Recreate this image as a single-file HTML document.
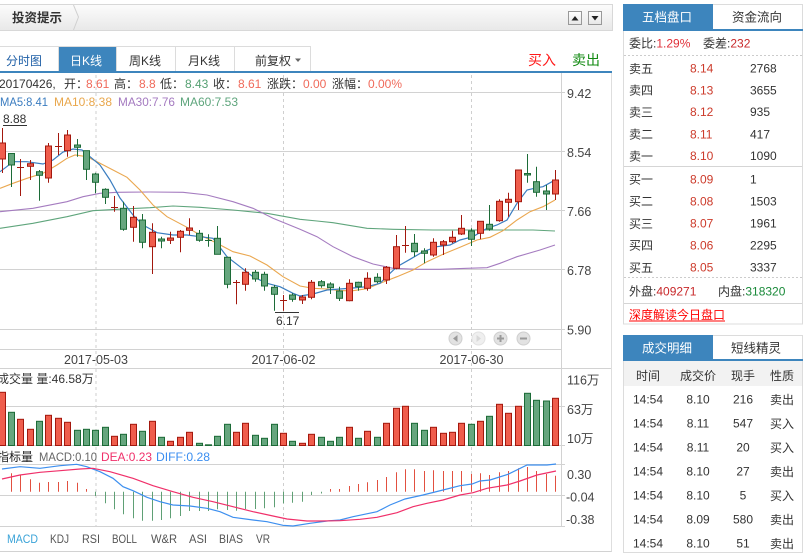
<!DOCTYPE html>
<html><head><meta charset="utf-8">
<style>
*{margin:0;padding:0;box-sizing:border-box}
html,body{width:808px;height:556px;overflow:hidden;background:#fff}
svg{display:block}
text{font-family:"Liberation Sans","Noto Sans CJK SC",sans-serif;font-size:12px;fill:#333}
.ax{font-size:12.5px;fill:#444}
.r rect{fill:#ef5d4c;stroke:#a3180e;stroke-width:1}
.r line{stroke:#a3180e;stroke-width:1}
.g rect{fill:#66a67e;stroke:#1c6b37;stroke-width:1}
.g line{stroke:#1c6b37;stroke-width:1}
.grid line{stroke:#d2d2d2;stroke-width:1}
.dash line{stroke:#cfcfcf;stroke-width:1;stroke-dasharray:3,3}
.hr line{stroke:#e25040;stroke-width:1}
.hg line{stroke:#5fa075;stroke-width:1}
.pr{fill:#cc3a2a}
</style></head><body>
<svg width="808" height="556" viewBox="0 0 808 556" xmlns="http://www.w3.org/2000/svg">
<defs>
<linearGradient id="hg" x1="0" y1="0" x2="0" y2="1"><stop offset="0" stop-color="#fcfcfc"/><stop offset="1" stop-color="#e8e8e8"/></linearGradient>
<linearGradient id="bg" x1="0" y1="0" x2="0" y2="1"><stop offset="0" stop-color="#ffffff"/><stop offset="1" stop-color="#e6e6e6"/></linearGradient>
</defs>

<!-- header -->
<rect x="-1" y="4.5" width="613.5" height="26" fill="url(#hg)" stroke="#d8d8d8"/>
<polyline points="73.5,5 78.5,17 73.5,30" fill="none" stroke="#d0d0d0"/>
<text x="12" y="22" style="font-weight:bold;font-size:12.5px">投资提示</text>
<rect x="568.5" y="11.5" width="13" height="13" fill="url(#bg)" stroke="#999"/>
<polygon points="571.5,20.5 578.5,20.5 575,16" fill="#222"/>
<rect x="588.5" y="11.5" width="13" height="13" fill="url(#bg)" stroke="#999"/>
<polygon points="591.5,16 598.5,16 595,20.5" fill="#222"/>

<!-- tabs -->
<rect x="58" y="46" width="58.5" height="25" fill="#3d85bd"/>
<line x1="0" y1="46.5" x2="310" y2="46.5" stroke="#dcdcdc"/>
<line x1="58.5" y1="46" x2="58.5" y2="71" stroke="#dcdcdc"/>
<line x1="116.5" y1="46" x2="116.5" y2="71" stroke="#dcdcdc"/>
<line x1="175.5" y1="46" x2="175.5" y2="71" stroke="#dcdcdc"/>
<line x1="234.5" y1="46" x2="234.5" y2="71" stroke="#dcdcdc"/>
<line x1="310.5" y1="46" x2="310.5" y2="71" stroke="#dcdcdc"/>
<text x="6" y="65" style="fill:#1f5fa6">分时图</text>
<text x="70" y="65" style="fill:#fff">日K线</text>
<text x="129" y="65">周K线</text>
<text x="188" y="65">月K线</text>
<text x="255" y="65">前复权</text>
<polygon points="295,58.5 301,58.5 298,62" fill="#666"/>
<text x="528" y="65" style="fill:#ff1a1a;font-size:14px">买入</text>
<text x="572" y="65" style="fill:#118a11;font-size:14px">卖出</text>
<rect x="0" y="71" width="612" height="2" fill="#3d85bd"/>

<!-- info lines -->
<text x="-1" y="88">20170426,</text>
<text x="64" y="88">开：</text><text x="86" y="88" style="fill:#f06a5a">8.61</text>
<text x="114" y="88">高：</text><text x="139" y="88" style="fill:#f06a5a">8.8</text>
<text x="160" y="88">低：</text><text x="185" y="88" style="fill:#55a072">8.43</text>
<text x="213" y="88">收：</text><text x="238" y="88" style="fill:#f06a5a">8.61</text>
<text x="267" y="88">涨跌：</text><text x="303" y="88" style="fill:#f06a5a">0.00</text>
<text x="332" y="88">涨幅：</text><text x="368" y="88" style="fill:#f06a5a">0.00%</text>
<text x="0" y="106" textLength="48" lengthAdjust="spacingAndGlyphs" style="fill:#3a7cc0">MA5:8.41</text>
<text x="54" y="106" textLength="58" lengthAdjust="spacingAndGlyphs" style="fill:#e9a74c">MA10:8.38</text>
<text x="118" y="106" textLength="57" lengthAdjust="spacingAndGlyphs" style="fill:#a47ac0">MA30:7.76</text>
<text x="180" y="106" textLength="58" lengthAdjust="spacingAndGlyphs" style="fill:#5ea57c">MA60:7.53</text>

<!-- grid -->
<g class="grid">
<line x1="0" y1="92.5" x2="565" y2="92.5"/>
<line x1="0" y1="151.5" x2="565" y2="151.5"/>
<line x1="0" y1="210.5" x2="565" y2="210.5"/>
<line x1="0" y1="269.5" x2="565" y2="269.5"/>
<line x1="0" y1="329.5" x2="565" y2="329.5"/>
<line x1="0" y1="349.5" x2="562" y2="349.5"/>
<line x1="0" y1="368.5" x2="612" y2="368.5"/>
<line x1="0" y1="406.5" x2="565" y2="406.5"/>
<line x1="0" y1="445.5" x2="565" y2="445.5"/>
<line x1="0" y1="464.5" x2="565" y2="464.5"/>
<line x1="0" y1="495.5" x2="565" y2="495.5"/>
<line x1="0" y1="526.5" x2="565" y2="526.5"/>
<line x1="0" y1="551.5" x2="612" y2="551.5"/>
<line x1="561.5" y1="73" x2="561.5" y2="526.5"/>
<line x1="611.5" y1="73" x2="611.5" y2="551.5" style="stroke:#dedede"/>
</g>
<g class="dash">
<line x1="96" y1="75" x2="96" y2="526"/>
<line x1="283.5" y1="75" x2="283.5" y2="526"/>
<line x1="471.5" y1="75" x2="471.5" y2="526"/>
</g>

<!-- axis labels -->
<text class="ax" x="567" y="98">9.42</text>
<text class="ax" x="567" y="157">8.54</text>
<text class="ax" x="567" y="216">7.66</text>
<text class="ax" x="567" y="275">6.78</text>
<text class="ax" x="567" y="334.5">5.90</text>
<text class="ax" x="567" y="384.5">116万</text>
<text class="ax" x="567" y="414">63万</text>
<text class="ax" x="567" y="443">10万</text>
<text class="ax" x="567" y="479">0.30</text>
<text class="ax" x="566" y="501.5">-0.04</text>
<text class="ax" x="566" y="524">-0.38</text>
<text class="ax" x="96" y="364" text-anchor="middle">2017-05-03</text>
<text class="ax" x="283.5" y="364" text-anchor="middle">2017-06-02</text>
<text class="ax" x="471.5" y="364" text-anchor="middle">2017-06-30</text>

<!-- nav buttons -->
<circle cx="455.5" cy="338.5" r="6.5" fill="#e2e2e2" stroke="#cfcfcf"/>
<polygon points="457.5,335 457.5,342 453,338.5" fill="#9a9a9a"/>
<circle cx="478.5" cy="338.5" r="6.5" fill="#efefef" stroke="#e2e2e2"/>
<polygon points="476.5,335 476.5,342 481,338.5" fill="#d8d8d8"/>
<circle cx="500.5" cy="338.5" r="6.5" fill="#e2e2e2" stroke="#cfcfcf"/>
<rect x="497" y="337.5" width="7" height="2" fill="#9a9a9a"/><rect x="499.5" y="335" width="2" height="7" fill="#9a9a9a"/>
<circle cx="523.5" cy="338.5" r="6.5" fill="#e2e2e2" stroke="#cfcfcf"/>
<rect x="520" y="337.5" width="7" height="2" fill="#9a9a9a"/>

<!-- MA lines -->
<polyline fill="none" stroke="#5fa57c" stroke-width="1.1" points="0,228.3 33,223.3 67,216.7 93,210.7 117,209.3 150,207.7 173,206 200,207.3 233,210 267,213.3 300,219.3 317,221 333,222.7 367,228.3 393,229.3 433,230 467,230 500,230 533,230 555,231"/>
<polyline fill="none" stroke="#a57cc0" stroke-width="1.1" points="0,211.7 33,208.3 67,201.7 83,196.7 100,193.3 117,192.3 150,192 183,192.3 207,195 233,201.7 253,208.3 273,218.3 300,229.3 317,236.7 333,246.7 353,256.7 373,264 393,268.3 417,269.3 440,269.3 467,268.3 487,267.7 500,263.3 517,256.7 540,250 555,245"/>
<polyline fill="none" stroke="#eaa74f" stroke-width="1.1" points="0,188.3 13,183.3 27,178.3 43,173.3 57,165 67,158.3 75,155 87,156.7 100,163.3 113,170 127,177.3 140,190 153,205 167,216.7 187,227.3 200,235 217,243.3 233,251.7 250,256 267,265 283,276.7 300,286 313,288.3 327,289 340,290.7 353,290.7 367,288.7 380,283.3 397,276.7 413,270 427,261.7 443,254.3 460,247.3 477,240 490,237.3 503,230.7 517,220 530,211.7 543,206.7 555,200"/>
<polyline fill="none" stroke="#3a7dc0" stroke-width="1.2" points="0,171.7 6.7,166.7 13,161.7 26.7,161.7 43,164 53,160 63,152 73,149 82,150 90,156.7 100,165 110,180 120,198 133,215 143,225 157,232.7 173,235 187,235 200,236.7 213,238.3 227,256.7 240,266.7 253,276.7 267,283.3 280,286.7 293,293.3 300,296 313,294 327,290 340,289 353,288 367,286.7 380,283.3 390,273.3 397,266.7 410,259.3 423,251.7 437,246.7 450,245 460,240 473,236.7 487,228.3 497,225 507,220 517,203.3 527,190 537,187.7 543,186.7 552,181.7 556,180.5"/>

<!-- candles -->
<g class="r">
<line x1="2.5" y1="128" x2="2.5" y2="173"/><rect x="-0.5" y="143" width="6" height="16"/>
<line x1="20.5" y1="159" x2="20.5" y2="196"/><line x1="17" y1="167.5" x2="24" y2="167.5"/>
<line x1="30.5" y1="160" x2="30.5" y2="180"/><rect x="27.5" y="163.7" width="6" height="2.6"/>
<line x1="48.5" y1="143" x2="48.5" y2="182.7"/><rect x="45.5" y="146" width="6" height="32"/>
<line x1="58.5" y1="133" x2="58.5" y2="155"/><line x1="55" y1="146.5" x2="62" y2="146.5"/>
<line x1="67.5" y1="130" x2="67.5" y2="156.7"/><rect x="64.5" y="135" width="6" height="15.7"/>
<line x1="114.5" y1="196" x2="114.5" y2="211.7"/><line x1="111" y1="207.5" x2="118" y2="207.5"/>
<line x1="133.5" y1="206" x2="133.5" y2="241.7"/><rect x="130.5" y="217.3" width="6" height="10"/>
<line x1="152.5" y1="223.3" x2="152.5" y2="274"/><rect x="149.5" y="232.3" width="6" height="14.4"/>
<line x1="170.5" y1="231.7" x2="170.5" y2="244"/><rect x="167.5" y="238" width="6" height="2.3"/>
<line x1="180.5" y1="230" x2="180.5" y2="252.3"/><rect x="177.5" y="231.3" width="6" height="6"/>
<line x1="189.5" y1="218.3" x2="189.5" y2="235"/><rect x="186.5" y="228" width="6" height="2.3"/>
<line x1="236.5" y1="280" x2="236.5" y2="304.3"/><line x1="233" y1="282.5" x2="240" y2="282.5"/>
<line x1="245.5" y1="268.3" x2="245.5" y2="290.7"/><rect x="242.5" y="272.3" width="6" height="12"/>
<line x1="283.5" y1="295" x2="283.5" y2="310.7"/><line x1="280" y1="300.5" x2="287" y2="300.5"/>
<line x1="302.5" y1="295" x2="302.5" y2="304"/><rect x="299.5" y="297" width="6" height="3"/>
<line x1="311.5" y1="280" x2="311.5" y2="299.3"/><rect x="308.5" y="282.3" width="6" height="15"/>
<line x1="349.5" y1="279.3" x2="349.5" y2="301.3"/><rect x="346.5" y="283.3" width="6" height="17.4"/>
<line x1="367.5" y1="272.3" x2="367.5" y2="290.7"/><rect x="364.5" y="278.3" width="6" height="10"/>
<line x1="386.5" y1="266" x2="386.5" y2="284"/><rect x="383.5" y="267.3" width="6" height="12.7"/>
<line x1="396.5" y1="235" x2="396.5" y2="269.3"/><rect x="393.5" y="246.7" width="6" height="21.6"/>
<line x1="405.5" y1="226" x2="405.5" y2="252.7"/><line x1="402" y1="245.5" x2="409" y2="245.5"/>
<line x1="433.5" y1="238.3" x2="433.5" y2="256.7"/><rect x="430.5" y="242.3" width="6" height="12.7"/>
<line x1="443.5" y1="240" x2="443.5" y2="255"/><rect x="440.5" y="241.7" width="6" height="3.3"/>
<line x1="452.5" y1="230.7" x2="452.5" y2="243.3"/><rect x="449.5" y="237.3" width="6" height="4.4"/>
<line x1="461.5" y1="215" x2="461.5" y2="235"/><rect x="458.5" y="228.3" width="6" height="5.7"/>
<line x1="480.5" y1="221.3" x2="480.5" y2="239.3"/><rect x="477.5" y="221.3" width="6" height="12"/>
<line x1="499.5" y1="199.3" x2="499.5" y2="221.7"/><rect x="496.5" y="201.3" width="6" height="19.4"/>
<line x1="508.5" y1="192.7" x2="508.5" y2="216.7"/><rect x="505.5" y="199.3" width="6" height="3"/>
<line x1="518.5" y1="170" x2="518.5" y2="210"/><rect x="515.5" y="170" width="6" height="31.7"/>
<line x1="555.5" y1="170" x2="555.5" y2="200"/><rect x="552.5" y="180" width="6" height="14"/>
</g>
<g class="g">
<line x1="11.5" y1="153" x2="11.5" y2="187"/><rect x="8.5" y="153.5" width="6" height="11.5"/>
<line x1="39.5" y1="170" x2="39.5" y2="200.7"/><rect x="36.5" y="171.7" width="6" height="3.6"/>
<line x1="77.5" y1="139" x2="77.5" y2="156.7"/><rect x="74.5" y="145" width="6" height="2.3"/>
<line x1="86.5" y1="150.7" x2="86.5" y2="180"/><rect x="83.5" y="150.7" width="6" height="18.6"/>
<line x1="95.5" y1="172.7" x2="95.5" y2="193.3"/><rect x="92.5" y="174" width="6" height="8.3"/>
<line x1="105.5" y1="188.3" x2="105.5" y2="204"/><rect x="102.5" y="189.3" width="6" height="8"/>
<line x1="123.5" y1="201.7" x2="123.5" y2="230.7"/><rect x="120.5" y="208.3" width="6" height="21"/>
<line x1="142.5" y1="214" x2="142.5" y2="248.3"/><rect x="139.5" y="220" width="6" height="22.3"/>
<line x1="161.5" y1="236.7" x2="161.5" y2="248.3"/><rect x="158.5" y="239" width="6" height="2"/>
<line x1="199.5" y1="230" x2="199.5" y2="241.7"/><rect x="196.5" y="233.3" width="6" height="7"/>
<line x1="208.5" y1="234.3" x2="208.5" y2="246.7"/><line x1="205" y1="240.5" x2="212" y2="240.5"/>
<line x1="217.5" y1="226" x2="217.5" y2="254.3"/><rect x="214.5" y="238.3" width="6" height="16"/>
<line x1="227.5" y1="256.7" x2="227.5" y2="288.3"/><rect x="224.5" y="257.3" width="6" height="27"/>
<line x1="255.5" y1="270" x2="255.5" y2="281.7"/><rect x="252.5" y="272.3" width="6" height="6.7"/>
<line x1="264.5" y1="271.7" x2="264.5" y2="290.7"/><rect x="261.5" y="274.3" width="6" height="11.7"/>
<line x1="274.5" y1="285" x2="274.5" y2="310.7"/><rect x="271.5" y="287.3" width="6" height="7"/>
<line x1="292.5" y1="293.3" x2="292.5" y2="301.7"/><rect x="289.5" y="295" width="6" height="4.3"/>
<line x1="321.5" y1="280" x2="321.5" y2="287.7"/><rect x="318.5" y="281.7" width="6" height="4"/>
<line x1="330.5" y1="282.3" x2="330.5" y2="294"/><rect x="327.5" y="284" width="6" height="3.7"/>
<line x1="339.5" y1="286.7" x2="339.5" y2="301"/><rect x="336.5" y="291" width="6" height="7.3"/>
<line x1="358.5" y1="281.7" x2="358.5" y2="290.7"/><rect x="355.5" y="282.3" width="6" height="4.4"/>
<line x1="377.5" y1="273.3" x2="377.5" y2="283.3"/><rect x="374.5" y="277.3" width="6" height="4.4"/>
<line x1="414.5" y1="234" x2="414.5" y2="256.7"/><rect x="411.5" y="243.3" width="6" height="8.4"/>
<line x1="424.5" y1="248.3" x2="424.5" y2="263.3"/><rect x="421.5" y="251" width="6" height="2.3"/>
<line x1="471.5" y1="228.3" x2="471.5" y2="246"/><rect x="468.5" y="231" width="6" height="8.3"/>
<line x1="489.5" y1="205" x2="489.5" y2="230.7"/><rect x="486.5" y="224.3" width="6" height="4.7"/>
<line x1="527.5" y1="154" x2="527.5" y2="182.7"/><rect x="524.5" y="173.5" width="6" height="1.5"/>
<line x1="536.5" y1="166.7" x2="536.5" y2="196.7"/><rect x="533.5" y="181.7" width="6" height="10.6"/>
<line x1="546.5" y1="185" x2="546.5" y2="210"/><rect x="543.5" y="191" width="6" height="3"/>
</g>

<!-- extreme labels -->
<text x="3" y="123">8.88</text>
<line x1="3" y1="125.5" x2="27" y2="125.5" stroke="#333"/>
<line x1="275" y1="312.5" x2="299" y2="312.5" stroke="#333"/>
<text x="276" y="325">6.17</text>

<!-- volume -->
<text x="-3" y="383">成交量 量:46.58万</text>
<g class="r">
<rect x="-0.5" y="392.3" width="6" height="53.2"/>
<rect x="17.5" y="419.3" width="6" height="26.2"/>
<rect x="27.5" y="429.3" width="6" height="16.2"/>
<rect x="45.5" y="415.3" width="6" height="30.2"/>
<rect x="55.5" y="418.3" width="6" height="27.2"/>
<rect x="64.5" y="422.3" width="6" height="23.2"/>
<rect x="111.5" y="436.3" width="6" height="9.2"/>
<rect x="130.5" y="424.3" width="6" height="21.2"/>
<rect x="149.5" y="421.3" width="6" height="24.2"/>
<rect x="167.5" y="441.3" width="6" height="4.2"/>
<rect x="177.5" y="437.3" width="6" height="8.2"/>
<rect x="186.5" y="432.3" width="6" height="13.2"/>
<rect x="233.5" y="432.3" width="6" height="13.2"/>
<rect x="242.5" y="423.3" width="6" height="22.2"/>
<rect x="280.5" y="433.3" width="6" height="12.2"/>
<rect x="299.5" y="443.3" width="6" height="2.2"/>
<rect x="308.5" y="434.3" width="6" height="11.2"/>
<rect x="346.5" y="427.3" width="6" height="18.2"/>
<rect x="364.5" y="431.3" width="6" height="14.2"/>
<rect x="383.5" y="423.3" width="6" height="22.2"/>
<rect x="393.5" y="408.3" width="6" height="37.2"/>
<rect x="402.5" y="406.3" width="6" height="39.2"/>
<rect x="430.5" y="427.3" width="6" height="18.2"/>
<rect x="440.5" y="433.3" width="6" height="12.2"/>
<rect x="449.5" y="432.3" width="6" height="13.2"/>
<rect x="458.5" y="423.3" width="6" height="22.2"/>
<rect x="477.5" y="421.3" width="6" height="24.2"/>
<rect x="496.5" y="404.3" width="6" height="41.2"/>
<rect x="505.5" y="413.3" width="6" height="32.2"/>
<rect x="515.5" y="406.3" width="6" height="39.2"/>
<rect x="552.5" y="398.3" width="6" height="47.2"/>
</g>
<g class="g">
<rect x="8.5" y="412.3" width="6" height="33.2"/>
<rect x="36.5" y="421.3" width="6" height="24.2"/>
<rect x="74.5" y="430.3" width="6" height="15.2"/>
<rect x="83.5" y="429.3" width="6" height="16.2"/>
<rect x="92.5" y="430.3" width="6" height="15.2"/>
<rect x="102.5" y="427.3" width="6" height="18.2"/>
<rect x="120.5" y="434.3" width="6" height="11.2"/>
<rect x="139.5" y="431.3" width="6" height="14.2"/>
<rect x="158.5" y="437.3" width="6" height="8.2"/>
<rect x="196.5" y="443.3" width="6" height="2.2"/>
<rect x="205.5" y="444.8" width="6" height="0.7"/>
<rect x="214.5" y="436.3" width="6" height="9.2"/>
<rect x="224.5" y="424.3" width="6" height="21.2"/>
<rect x="252.5" y="435.3" width="6" height="10.2"/>
<rect x="261.5" y="438.3" width="6" height="7.2"/>
<rect x="271.5" y="424.3" width="6" height="21.2"/>
<rect x="289.5" y="441.3" width="6" height="4.2"/>
<rect x="318.5" y="437.3" width="6" height="8.2"/>
<rect x="327.5" y="441.3" width="6" height="4.2"/>
<rect x="336.5" y="437.3" width="6" height="8.2"/>
<rect x="355.5" y="438.3" width="6" height="7.2"/>
<rect x="374.5" y="437.3" width="6" height="8.2"/>
<rect x="411.5" y="423.3" width="6" height="22.2"/>
<rect x="421.5" y="430.3" width="6" height="15.2"/>
<rect x="468.5" y="424.3" width="6" height="21.2"/>
<rect x="486.5" y="416.3" width="6" height="29.2"/>
<rect x="524.5" y="393.3" width="6" height="52.2"/>
<rect x="533.5" y="400.3" width="6" height="45.2"/>
<rect x="543.5" y="401" width="6" height="44.5"/>
</g>

<!-- MACD -->
<text x="-3" y="461" style="fill:#222">指标量</text>
<text x="39" y="461" textLength="58" lengthAdjust="spacingAndGlyphs" style="fill:#666">MACD:0.10</text>
<text x="101" y="461" textLength="51" lengthAdjust="spacingAndGlyphs" style="fill:#f0306a">DEA:0.23</text>
<text x="156" y="461" textLength="54" lengthAdjust="spacingAndGlyphs" style="fill:#3b8ef0">DIFF:0.28</text>
<g class="hr">
<line x1="11.5" y1="491.7" x2="11.5" y2="473.3"/>
<line x1="20.5" y1="491.7" x2="20.5" y2="475"/>
<line x1="30.5" y1="491.7" x2="30.5" y2="479.3"/>
<line x1="39.5" y1="491.7" x2="39.5" y2="482.7"/>
<line x1="48.5" y1="491.7" x2="48.5" y2="482"/>
<line x1="58.5" y1="491.7" x2="58.5" y2="482"/>
<line x1="67.5" y1="491.7" x2="67.5" y2="481"/>
<line x1="77.5" y1="491.7" x2="77.5" y2="482.7"/>
<line x1="86.5" y1="491.7" x2="86.5" y2="489"/>
<line x1="330.5" y1="491.7" x2="330.5" y2="489"/>
<line x1="339.5" y1="491.7" x2="339.5" y2="489"/>
<line x1="349.5" y1="491.7" x2="349.5" y2="486"/>
<line x1="358.5" y1="491.7" x2="358.5" y2="484"/>
<line x1="367.5" y1="491.7" x2="367.5" y2="482.3"/>
<line x1="377.5" y1="491.7" x2="377.5" y2="480"/>
<line x1="386.5" y1="491.7" x2="386.5" y2="477"/>
<line x1="396.5" y1="491.7" x2="396.5" y2="472.3"/>
<line x1="405.5" y1="491.7" x2="405.5" y2="469.3"/>
<line x1="414.5" y1="491.7" x2="414.5" y2="469.3"/>
<line x1="424.5" y1="491.7" x2="424.5" y2="471"/>
<line x1="433.5" y1="491.7" x2="433.5" y2="470.3"/>
<line x1="443.5" y1="491.7" x2="443.5" y2="471"/>
<line x1="452.5" y1="491.7" x2="452.5" y2="471"/>
<line x1="461.5" y1="491.7" x2="461.5" y2="471"/>
<line x1="471.5" y1="491.7" x2="471.5" y2="474"/>
<line x1="480.5" y1="491.7" x2="480.5" y2="473.3"/>
<line x1="489.5" y1="491.7" x2="489.5" y2="475"/>
<line x1="499.5" y1="491.7" x2="499.5" y2="472.3"/>
<line x1="508.5" y1="491.7" x2="508.5" y2="471"/>
<line x1="518.5" y1="491.7" x2="518.5" y2="468.3"/>
<line x1="527.5" y1="491.7" x2="527.5" y2="467"/>
<line x1="536.5" y1="491.7" x2="536.5" y2="471"/>
<line x1="546.5" y1="491.7" x2="546.5" y2="474"/>
<line x1="555.5" y1="491.7" x2="555.5" y2="475.7"/>
</g>
<g class="hg">
<line x1="95.5" y1="491.7" x2="95.5" y2="496"/>
<line x1="105.5" y1="491.7" x2="105.5" y2="503.3"/>
<line x1="114.5" y1="491.7" x2="114.5" y2="509.3"/>
<line x1="123.5" y1="491.7" x2="123.5" y2="514.3"/>
<line x1="133.5" y1="491.7" x2="133.5" y2="518.3"/>
<line x1="142.5" y1="491.7" x2="142.5" y2="520.7"/>
<line x1="152.5" y1="491.7" x2="152.5" y2="520.7"/>
<line x1="161.5" y1="491.7" x2="161.5" y2="520"/>
<line x1="170.5" y1="491.7" x2="170.5" y2="518.3"/>
<line x1="180.5" y1="491.7" x2="180.5" y2="516"/>
<line x1="189.5" y1="491.7" x2="189.5" y2="511"/>
<line x1="199.5" y1="491.7" x2="199.5" y2="511"/>
<line x1="208.5" y1="491.7" x2="208.5" y2="511"/>
<line x1="217.5" y1="491.7" x2="217.5" y2="509.3"/>
<line x1="227.5" y1="491.7" x2="227.5" y2="510"/>
<line x1="236.5" y1="491.7" x2="236.5" y2="510.7"/>
<line x1="245.5" y1="491.7" x2="245.5" y2="509"/>
<line x1="255.5" y1="491.7" x2="255.5" y2="509"/>
<line x1="264.5" y1="491.7" x2="264.5" y2="508.3"/>
<line x1="274.5" y1="491.7" x2="274.5" y2="507.3"/>
<line x1="283.5" y1="491.7" x2="283.5" y2="503.3"/>
<line x1="292.5" y1="491.7" x2="292.5" y2="502.7"/>
<line x1="302.5" y1="491.7" x2="302.5" y2="501.7"/>
<line x1="311.5" y1="491.7" x2="311.5" y2="495"/>
<line x1="321.5" y1="491.7" x2="321.5" y2="493.5"/>
</g>
<polyline fill="none" stroke="#3d8fef" stroke-width="1.2" points="2,469 20,466.7 40,468.3 60,465.7 76.7,464.3 86.7,466.7 100,471.7 113,478.3 123,486.7 133,490.7 147,497.3 160,501.7 173,505 190,506 207,508.3 220,511.7 233,517.3 253,520 267,521.7 283,525.3 293,526 310,523.3 330,520.7 340,520 353,516.7 377,511.7 390,505 405,499 423,495 443,490 460,485.7 472,484 480,481 490,480 508,474.3 527,465 547,465 556,464"/>
<polyline fill="none" stroke="#f0306a" stroke-width="1.2" points="2,479 20,475 40,472.3 60,470.7 80,469 93,468.3 110,471.7 133,478.3 153,485.7 173,491.7 193,497.3 213,501.7 233,506.7 253,511.7 273,516 287,519 307,521 320,521 340,520.7 360,519.3 377,517.3 397,512.7 413,506.7 427,503.3 443,500 460,495 473,492.7 487,488.3 507,485 520,481 537,475 556,471"/>

<!-- indicator tabs -->
<text x="7" y="543" textLength="31" lengthAdjust="spacingAndGlyphs" style="fill:#3aa3d8">MACD</text>
<text x="50" y="543" textLength="19" lengthAdjust="spacingAndGlyphs" style="fill:#555">KDJ</text>
<text x="82" y="543" textLength="18" lengthAdjust="spacingAndGlyphs" style="fill:#555">RSI</text>
<text x="112" y="543" textLength="25" lengthAdjust="spacingAndGlyphs" style="fill:#555">BOLL</text>
<text x="151" y="543" textLength="26" lengthAdjust="spacingAndGlyphs" style="fill:#555">W&amp;R</text>
<text x="189" y="543" textLength="18" lengthAdjust="spacingAndGlyphs" style="fill:#555">ASI</text>
<text x="219" y="543" textLength="24" lengthAdjust="spacingAndGlyphs" style="fill:#555">BIAS</text>
<text x="256" y="543" textLength="14" lengthAdjust="spacingAndGlyphs" style="fill:#555">VR</text>

<!-- right panel box 1 -->
<rect x="623.5" y="4.5" width="179" height="319.5" fill="#fff" stroke="#dcdcdc"/>
<rect x="623" y="4" width="90" height="26" fill="#3d85bd"/>
<rect x="623" y="29" width="180" height="2" fill="#3d85bd"/>
<text x="667" y="21.5" text-anchor="middle" style="fill:#fff;font-size:12.5px">五档盘口</text>
<text x="757" y="21.5" text-anchor="middle" style="font-size:12.5px">资金流向</text>
<text x="629" y="47.5">委比:<tspan style="fill:#e0303a">1.29%</tspan></text>
<text x="703" y="47.5">委差:<tspan style="fill:#c8282a">232</tspan></text>
<line x1="624" y1="55.5" x2="802" y2="55.5" stroke="#ccc" stroke-dasharray="2,2"/>
<text x="629" y="73">卖五</text><text class="pr" x="690" y="72.7">8.14</text><text x="750" y="72.7">2768</text>
<text x="629" y="94.7">卖四</text><text class="pr" x="690" y="94.4">8.13</text><text x="750" y="94.4">3655</text>
<text x="629" y="116.4">卖三</text><text class="pr" x="690" y="116.1">8.12</text><text x="750" y="116.1">935</text>
<text x="629" y="138.6">卖二</text><text class="pr" x="690" y="138.3">8.11</text><text x="750" y="138.3">417</text>
<text x="629" y="160.3">卖一</text><text class="pr" x="690" y="160">8.10</text><text x="750" y="160">1090</text>
<line x1="624" y1="166.5" x2="802" y2="166.5" stroke="#d5d5d5"/>
<text x="629" y="183.6">买一</text><text class="pr" x="690" y="183.3">8.09</text><text x="750" y="183.3">1</text>
<text x="629" y="205.6">买二</text><text class="pr" x="690" y="205.3">8.08</text><text x="750" y="205.3">1503</text>
<text x="629" y="228">买三</text><text class="pr" x="690" y="227.7">8.07</text><text x="750" y="227.7">1961</text>
<text x="629" y="249.6">买四</text><text class="pr" x="690" y="249.3">8.06</text><text x="750" y="249.3">2295</text>
<text x="629" y="271.8">买五</text><text class="pr" x="690" y="271.5">8.05</text><text x="750" y="271.5">3337</text>
<line x1="624" y1="277.5" x2="802" y2="277.5" stroke="#ccc" stroke-dasharray="2,2"/>
<text x="629" y="295.5">外盘:<tspan style="fill:#c8282a">409271</tspan></text>
<text x="718" y="295.5">内盘:<tspan style="fill:#1a8a3a">318320</tspan></text>
<line x1="624" y1="303.5" x2="802" y2="303.5" stroke="#d5d5d5"/>
<text x="629" y="319" style="fill:#f00">深度解读今日盘口</text>
<line x1="629" y1="321" x2="725" y2="321" stroke="#f00"/>

<!-- right panel box 2 -->
<rect x="623.5" y="335.5" width="179" height="217" fill="#fff" stroke="#dcdcdc"/>
<rect x="623" y="335" width="90" height="25" fill="#3d85bd"/>
<rect x="623" y="359" width="180" height="2" fill="#3d85bd"/>
<rect x="624" y="361" width="178" height="25" fill="#f2f2f2"/>
<text x="667" y="352.5" text-anchor="middle" style="fill:#fff;font-size:12.5px">成交明细</text>
<text x="756" y="352.5" text-anchor="middle" style="font-size:12.5px">短线精灵</text>
<g text-anchor="middle">
<text x="648" y="380" text-anchor="middle">时间</text><text x="698" y="380" text-anchor="middle">成交价</text><text x="743" y="380" text-anchor="middle">现手</text><text x="782" y="380" text-anchor="middle">性质</text>
<text x="648" y="403.3" text-anchor="middle">14:54</text><text x="698" y="403.3" text-anchor="middle">8.10</text><text x="743" y="403.3" text-anchor="middle">216</text><text x="782" y="403.8" text-anchor="middle">卖出</text>
<text x="648" y="427.3" text-anchor="middle">14:54</text><text x="698" y="427.3" text-anchor="middle">8.11</text><text x="743" y="427.3" text-anchor="middle">547</text><text x="782" y="427.8" text-anchor="middle">买入</text>
<text x="648" y="451.3" text-anchor="middle">14:54</text><text x="698" y="451.3" text-anchor="middle">8.11</text><text x="743" y="451.3" text-anchor="middle">20</text><text x="782" y="451.8" text-anchor="middle">买入</text>
<text x="648" y="475.3" text-anchor="middle">14:54</text><text x="698" y="475.3" text-anchor="middle">8.10</text><text x="743" y="475.3" text-anchor="middle">27</text><text x="782" y="475.8" text-anchor="middle">卖出</text>
<text x="648" y="499.3" text-anchor="middle">14:54</text><text x="698" y="499.3" text-anchor="middle">8.10</text><text x="743" y="499.3" text-anchor="middle">5</text><text x="782" y="499.8" text-anchor="middle">买入</text>
<text x="648" y="523.3" text-anchor="middle">14:54</text><text x="698" y="523.3" text-anchor="middle">8.09</text><text x="743" y="523.3" text-anchor="middle">580</text><text x="782" y="523.8" text-anchor="middle">卖出</text>
<text x="648" y="547.3" text-anchor="middle">14:54</text><text x="698" y="547.3" text-anchor="middle">8.10</text><text x="743" y="547.3" text-anchor="middle">51</text><text x="782" y="547.8" text-anchor="middle">卖出</text>
</g>
</svg>
</body></html>
